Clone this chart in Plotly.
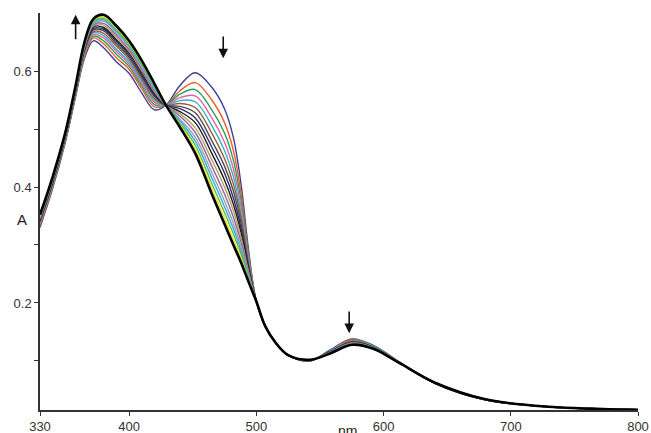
import plotly.graph_objects as go

wavelength_nm = [330, 340, 350, 358, 365, 372, 380, 390, 400, 410, 420, 429, 440, 452, 465, 475,
                 482, 488, 494, 500, 507, 515, 525, 542, 558, 575, 592, 612, 640, 680, 730, 800]

spectrum_01 = [.330, .398, .478, .556, .622, .652, .640, .616, .596, .562, .533, .541, .575, .597, .572, .535,
               .485, .405, .290, .203, .160, .132, .110, .100, .119, .138, .127, .099, .062, .033, .021, .016]
spectrum_02 = [.333, .400, .480, .558, .625, .657, .647, .623, .603, .569, .538, .541, .566, .580, .550, .511,
               .463, .389, .284, .203, .160, .132, .110, .100, .118, .137, .126, .099, .062, .033, .021, .016]
spectrum_03 = [.335, .402, .482, .560, .628, .660, .652, .629, .608, .574, .542, .541, .560, .568, .533, .493,
               .446, .377, .279, .203, .160, .132, .110, .100, .118, .136, .126, .099, .062, .033, .021, .016]
spectrum_04 = [.336, .404, .483, .562, .630, .663, .657, .634, .612, .578, .546, .541, .554, .557, .519, .477,
               .431, .366, .274, .203, .160, .132, .110, .101, .117, .135, .125, .098, .062, .033, .021, .016]
spectrum_05 = [.338, .405, .484, .563, .632, .666, .661, .638, .616, .582, .549, .541, .549, .547, .506, .463,
               .418, .356, .271, .203, .160, .132, .110, .101, .117, .134, .125, .098, .062, .033, .021, .016]
spectrum_06 = [.339, .407, .485, .564, .634, .668, .665, .643, .620, .586, .552, .541, .544, .537, .493, .449,
               .405, .347, .267, .203, .160, .132, .110, .101, .116, .134, .124, .098, .062, .033, .021, .016]
spectrum_07 = [.341, .408, .487, .566, .636, .671, .669, .647, .624, .590, .556, .541, .539, .528, .480, .436,
               .393, .338, .263, .203, .160, .132, .110, .101, .116, .133, .124, .098, .062, .033, .021, .016]
spectrum_08 = [.342, .409, .488, .567, .638, .673, .672, .651, .627, .593, .558, .541, .535, .519, .469, .424,
               .381, .329, .260, .203, .160, .132, .110, .101, .116, .132, .124, .098, .062, .034, .021, .016]
spectrum_09 = [.344, .410, .489, .568, .639, .676, .675, .654, .631, .597, .561, .541, .530, .511, .458, .412,
               .370, .321, .257, .203, .160, .132, .110, .101, .115, .132, .123, .098, .063, .034, .021, .016]
spectrum_10 = [.345, .412, .490, .569, .641, .678, .679, .658, .634, .600, .564, .541, .526, .502, .447, .400,
               .359, .313, .253, .203, .160, .132, .110, .101, .115, .131, .123, .098, .063, .034, .021, .016]
spectrum_11 = [.346, .413, .491, .570, .643, .680, .682, .662, .637, .603, .566, .541, .522, .494, .436, .388,
               .348, .305, .250, .203, .160, .132, .110, .101, .115, .131, .123, .097, .063, .034, .021, .016]
spectrum_12 = [.348, .414, .492, .571, .644, .682, .686, .666, .641, .607, .569, .541, .517, .486, .425, .376,
               .337, .297, .247, .203, .160, .132, .110, .102, .114, .130, .122, .097, .063, .034, .021, .016]
spectrum_13 = [.353, .415, .492, .572, .646, .684, .688, .669, .644, .610, .571, .541, .514, .479, .416, .366,
               .328, .290, .244, .203, .160, .132, .110, .102, .114, .130, .122, .097, .063, .034, .021, .016]
spectrum_14 = [.350, .416, .493, .573, .647, .686, .691, .672, .646, .612, .574, .541, .510, .472, .406, .356,
               .319, .284, .241, .203, .160, .132, .110, .102, .114, .129, .122, .097, .063, .034, .021, .016]
spectrum_15 = [.351, .417, .494, .574, .649, .688, .694, .675, .649, .615, .576, .541, .507, .465, .397, .346,
               .309, .277, .239, .203, .160, .132, .110, .102, .113, .129, .121, .097, .063, .034, .021, .016]
spectrum_16 = [.352, .418, .495, .575, .650, .690, .697, .678, .652, .618, .578, .541, .503, .458, .388, .336,
               .300, .270, .236, .203, .160, .132, .110, .102, .113, .128, .121, .097, .063, .034, .021, .016]

spectra = [spectrum_01, spectrum_02, spectrum_03, spectrum_04, spectrum_05, spectrum_06,
           spectrum_07, spectrum_08, spectrum_09, spectrum_10, spectrum_11, spectrum_12,
           spectrum_13, spectrum_14, spectrum_15, spectrum_16]

line_colors = ['#3c3f95', '#f15a29', '#1fa35b', '#ec5fa0', '#29b6cf', '#9c5b3a',
               '#4d4d4d', '#2b2f6e', '#1a1a1a', '#b0a35a', '#9b5fb0', '#a0a0a0',
               '#2ab0e6', '#62bb46', '#e6e21c', '#000000']

x_tick_vals = [330, 400, 500, 600, 700, 800]
x_tick_text = ['330', '400', '500', '600', '700', '800']
y_tick_vals = [0.1, 0.2, 0.3, 0.4, 0.5, 0.6]
y_tick_text = ['', '0.2', '', '0.4', '', '0.6']

fig = go.Figure()
for i, (ys, col) in enumerate(zip(spectra, line_colors)):
    last = i == len(spectra) - 1
    fig.add_trace(go.Scatter(
        x=wavelength_nm, y=ys, mode='lines',
        line=dict(color=col, width=2.6 if last else 1.4, shape='spline', smoothing=1.0),
        showlegend=False, hoverinfo='skip'))

axis_font = dict(family='Liberation Sans, Arial, sans-serif', size=13, color='#333333')

fig.update_layout(
    width=651, height=433,
    margin=dict(l=40, r=13, t=13, b=23),
    paper_bgcolor='white', plot_bgcolor='white',
    xaxis=dict(range=[330, 800], tickvals=x_tick_vals, ticktext=x_tick_text,
               ticks='outside', ticklen=4, tickcolor='#333333', showline=True,
               linecolor='#333333', linewidth=1.5, showgrid=False, zeroline=False,
               tickfont=axis_font, automargin=False),
    yaxis=dict(range=[0.0155, 0.70], tickvals=y_tick_vals, ticktext=y_tick_text,
               ticks='outside', ticklen=4, tickcolor='#333333', showline=True,
               linecolor='#333333', linewidth=1.5, showgrid=False, zeroline=False,
               tickfont=axis_font, automargin=False),
    annotations=[
        dict(text='A', x=-0.042, y=0.48, xref='paper', yref='paper', showarrow=False,
             font=dict(family='Liberation Sans, Arial, sans-serif', size=15, color='#222222')),
        dict(text='nm', x=0.515, y=-0.028, xref='paper', yref='paper', showarrow=False,
             yanchor='top',
             font=dict(family='Liberation Sans, Arial, sans-serif', size=14, color='#222222')),
        dict(x=358, y=0.697, ax=358, ay=0.652, xref='x', yref='y', axref='x', ayref='y',
             text='', showarrow=True, arrowhead=2, arrowsize=1.2, arrowwidth=1.6,
             arrowcolor='#111111'),
        dict(x=474, y=0.622, ax=474, ay=0.662, xref='x', yref='y', axref='x', ayref='y',
             text='', showarrow=True, arrowhead=2, arrowsize=1.2, arrowwidth=1.6,
             arrowcolor='#111111'),
        dict(x=573, y=0.148, ax=573, ay=0.188, xref='x', yref='y', axref='x', ayref='y',
             text='', showarrow=True, arrowhead=2, arrowsize=1.2, arrowwidth=1.6,
             arrowcolor='#111111'),
    ],
)

fig.write_html('out.html', config={'displayModeBar': False},
               post_script="document.body.style.margin='0';document.body.style.overflow='hidden';")
